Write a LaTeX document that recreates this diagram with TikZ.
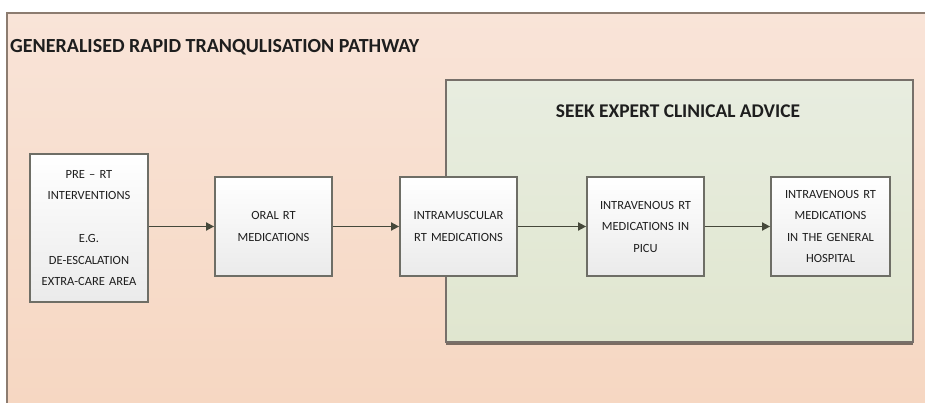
\documentclass[tikz,border=0pt]{standalone}
\usepackage{fontspec}
\setmainfont{Carlito}
\usetikzlibrary{arrows.meta,shadows}

\definecolor{peachtop}{HTML}{F9E4D8}
\definecolor{peachbot}{HTML}{F6D7C2}
\definecolor{framec}{HTML}{8C7C70}
\definecolor{greentop}{HTML}{E8EDE0}
\definecolor{greenbot}{HTML}{E0E6CF}
\definecolor{panelline}{HTML}{77706A}
\definecolor{boxline}{HTML}{6E6E66}
\definecolor{arrowc}{HTML}{45483A}
\definecolor{inkc}{HTML}{1E1E1E}

\tikzset{
  stagebox/.style={draw=boxline, line width=1.8pt, top color=white, bottom color=black!8,
    align=center, text=inkc, inner sep=2pt,
    font=\fontsize{12.5}{21.5}\selectfont,
    drop shadow={shadow xshift=1.2pt, shadow yshift=-1.2pt, opacity=0.35, fill=black}},
  panelbox/.style={draw=panelline, line width=1.4pt, top color=greentop, bottom color=greenbot,
    drop shadow={shadow xshift=0pt, shadow yshift=-2.5pt, opacity=0.5, fill=black}},
  flow/.style={draw=arrowc, line width=1.7pt, -{Triangle[length=8pt,width=8pt]}},
}

\begin{document}
\begin{tikzpicture}[x=1pt,y=-1pt]
\useasboundingbox (0,0) rectangle (925,403);
\fill[white] (0,0) rectangle (925,403);

% sheet background and its frame
\shade[top color=peachtop, bottom color=peachbot] (7,13) rectangle (925,403);
\draw[framec, line width=1.4pt] (7,403) -- (7,13) -- (925,13);

\node[anchor=base west, font=\fontsize{20}{22}\selectfont\bfseries, text=inkc, inner sep=0pt]
  (title) at (10,53) {GENERALISED RAPID TRANQULISATION PATHWAY};

% expert advice panel
\node[panelbox, minimum width=467pt, minimum height=262pt, inner sep=0pt] (advice) at (679.5,211) {};
\node[font=\fontsize{19.4}{21}\selectfont\bfseries, text=inkc] (advicetitle) at (678,111) {SEEK EXPERT CLINICAL ADVICE};

% pathway stages
\node[stagebox, minimum width=118pt, minimum height=148pt, text width=114pt] (pre) at (89,228)
  {PRE – RT\\INTERVENTIONS\\[21.5pt]E.G.\\DE-ESCALATION\\EXTRA-CARE AREA};
\node[stagebox, minimum width=117pt, minimum height=99pt, text width=113pt] (oral) at (273.5,226.5)
  {ORAL RT\\MEDICATIONS};
\node[stagebox, minimum width=117pt, minimum height=99pt, text width=113pt] (im) at (458.5,226.5)
  {INTRAMUSCULAR\\RT MEDICATIONS};
\node[stagebox, minimum width=117pt, minimum height=99pt, text width=113pt] (picu) at (645.5,226.5)
  {INTRAVENOUS RT\\MEDICATIONS IN\\PICU};
\node[stagebox, minimum width=119pt, minimum height=99pt, text width=115pt] (gen) at (830.5,226.5)
  {INTRAVENOUS RT\\MEDICATIONS\\IN THE GENERAL\\HOSPITAL};

% connectors
\draw[flow] (pre.east |- oral.west) -- (oral.west);
\draw[flow] (oral.east) -- (im.west);
\draw[flow] (im.east) -- (picu.west);
\draw[flow] (picu.east) -- (gen.west);
\end{tikzpicture}
\end{document}
